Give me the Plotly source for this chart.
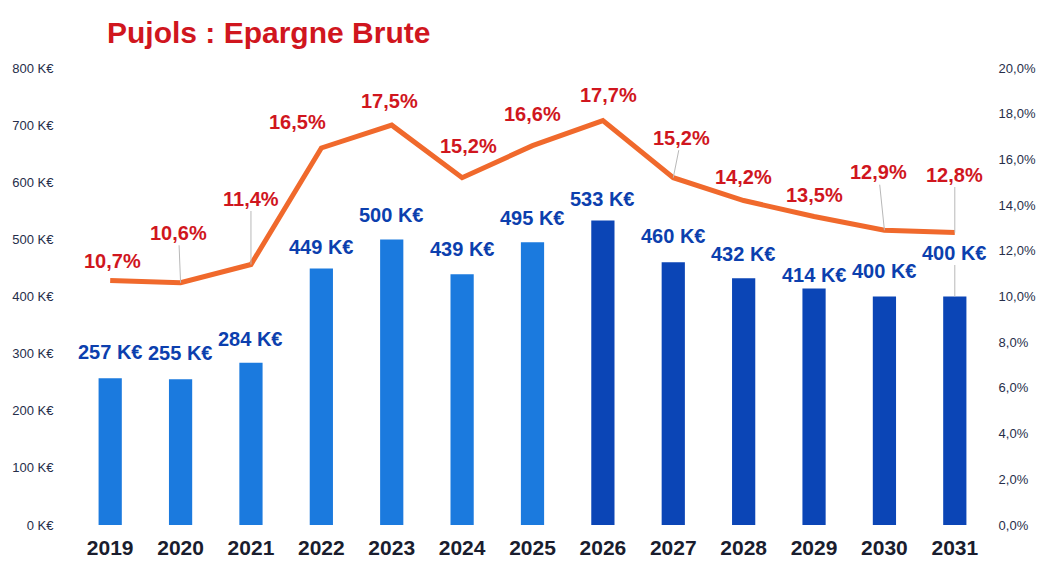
import plotly.graph_objects as go

years = ["2019", "2020", "2021", "2022", "2023", "2024", "2025",
         "2026", "2027", "2028", "2029", "2030", "2031"]
epargne = [257, 255, 284, 449, 500, 439, 495, 533, 460, 432, 414, 400, 400]
taux = [10.7, 10.6, 11.4, 16.5, 17.5, 15.2, 16.6, 17.7, 15.2, 14.2, 13.5, 12.9, 12.8]
left_ticks = [0, 100, 200, 300, 400, 500, 600, 700, 800]
left_labels = [f"{v} K€" for v in left_ticks]
right_ticks = [0, 2, 4, 6, 8, 10, 12, 14, 16, 18, 20]
right_labels = [f"{v:.1f}%".replace(".", ",") for v in right_ticks]

LIGHT = "#1b7ade"
DARK = "#0b45b6"
bar_colors = [LIGHT] * 7 + [DARK] * 6

# label offsets (pixels) and leader-line flags
bar_off = [(0, -26), (0, -26), (0, -24), (0, -22), (0, -24), (0, -25), (0, -24),
           (0, -22), (0, -26), (0, -24), (0, -14), (0, -26), (0, -44)]
bar_leader = [False] * 12 + [True]
line_off = [(2, -20), (-2, -50), (0, -66), (-24, -26), (-2, -24), (6, -32), (0, -32),
            (6, -26), (8, -40), (0, -24), (0, -22), (-6, -58), (0, -58)]
line_leader = [False, True, True, False, False, False, False, False, True,
               False, False, True, True]

FONT = "Liberation Sans, Arial, sans-serif"

fig = go.Figure()
fig.add_trace(go.Bar(x=years, y=epargne, marker_color=bar_colors, width=0.33,
                     marker_line_width=0, yaxis="y", hoverinfo="x+y"))
fig.add_trace(go.Scatter(x=years, y=taux, mode="lines", yaxis="y2",
                         line=dict(color="#f0692c", width=5)))

ann = []
for i, v in enumerate(epargne):
    ax, ay = bar_off[i]
    ann.append(dict(x=i, y=v, xref="x", yref="y", text=f"{v} K€",
                    showarrow=True, ax=ax, ay=ay, arrowhead=0, arrowwidth=1,
                    arrowcolor="#b8b8b8" if bar_leader[i] else "rgba(0,0,0,0)",
                    font=dict(family=FONT, size=20, color="#0c3fae", weight="bold")))
for i, v in enumerate(taux):
    ax, ay = line_off[i]
    ann.append(dict(x=i, y=v, xref="x", yref="y2",
                    text=f"{v:.1f}%".replace(".", ","),
                    showarrow=True, ax=ax, ay=ay, arrowhead=0, arrowwidth=1,
                    arrowcolor="#b8b8b8" if line_leader[i] else "rgba(0,0,0,0)",
                    font=dict(family=FONT, size=20, color="#d0161e", weight="bold")))

fig.update_layout(
    width=1038, height=562,
    margin=dict(l=75, r=48, t=68, b=37),
    paper_bgcolor="white", plot_bgcolor="white",
    showlegend=False, bargap=0.6,
    title=dict(text="<b>Pujols : Epargne Brute</b>", x=107 / 1038, xanchor="left",
               xref="container", yref="container", y=1 - 32 / 562, yanchor="middle",
               font=dict(family=FONT, size=30, color="#d0161e")),
    xaxis=dict(type="category", range=[-0.5, len(years) - 0.5], automargin=False,
               showgrid=False, zeroline=False, showline=False,
               ticks="outside", ticklen=4, tickcolor="rgba(0,0,0,0)",
               tickfont=dict(family=FONT, size=21, color="#1a1d2e", weight="bold")),
    yaxis=dict(range=[0, 800], tickvals=left_ticks, ticktext=left_labels,
               automargin=False,
               showgrid=False, zeroline=False, showline=False,
               ticks="outside", ticklen=18, tickcolor="rgba(0,0,0,0)",
               tickfont=dict(family=FONT, size=13, color="#262e4a")),
    yaxis2=dict(range=[0, 20], tickvals=right_ticks, ticktext=right_labels,
                overlaying="y", side="right", automargin=False,
                showgrid=False, zeroline=False, showline=False,
                ticks="outside", ticklen=5, tickcolor="rgba(0,0,0,0)",
                tickfont=dict(family=FONT, size=13, color="#262e4a")),
    annotations=ann,
)

fig.write_html("out.html", config={"displayModeBar": False},
               post_script="document.body.style.margin='0';")
